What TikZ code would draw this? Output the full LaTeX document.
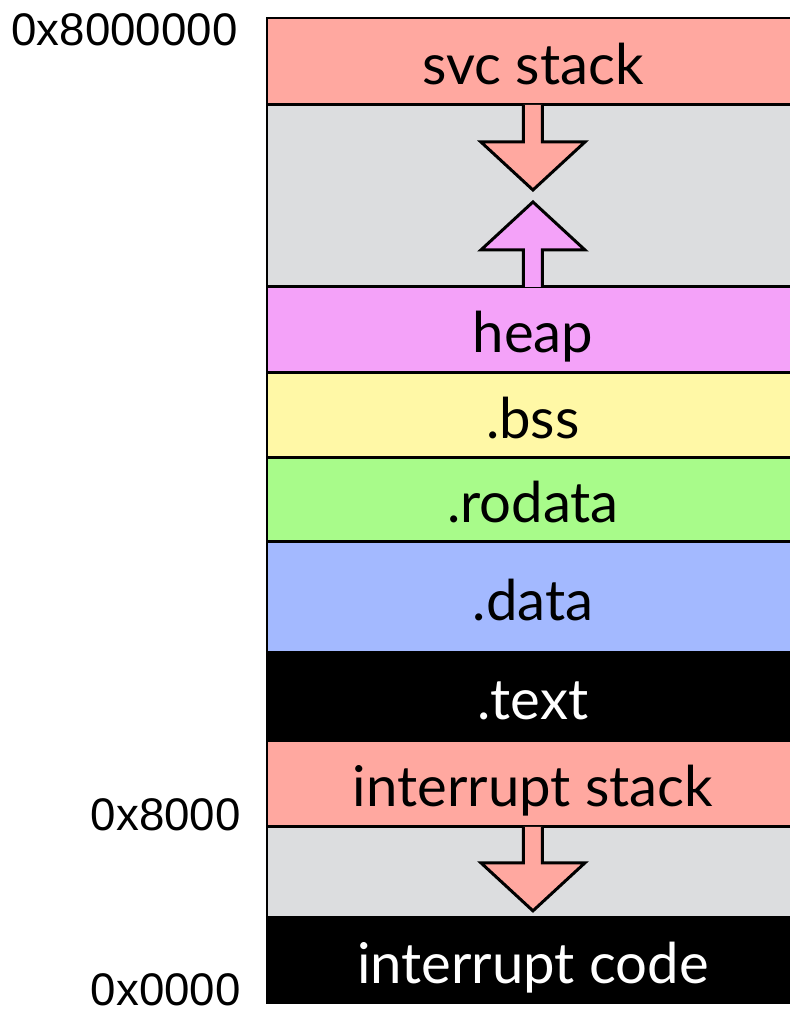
\documentclass[tikz,border=0pt]{standalone}
\usepackage{fontspec}
\setmainfont{Lato}
\newfontfamily\addrfont{Liberation Sans}
\usepackage{xcolor}
\usepackage{tikz}
\usetikzlibrary{positioning, calc}

\definecolor{stackred}{HTML}{FFA8A0}
\definecolor{freegray}{HTML}{DCDDDF}
\definecolor{heappink}{HTML}{F4A2F9}
\definecolor{bssyellow}{HTML}{FFF8A6}
\definecolor{rodatagreen}{HTML}{A8FB8A}
\definecolor{datablue}{HTML}{A3B9FF}

\tikzset{
  segment/.style={
    draw, line width=1.7pt, outer sep=0pt, inner sep=0pt,
    minimum width=10.64cm, text height=26pt, text depth=0pt,
    font=\fontsize{32}{36}\selectfont
  },
  codeseg/.style={segment, fill=black, text=white},
  growarrow/.style={line width=1.7pt, miter limit=10},
  addrlabel/.style={anchor=east, inner sep=0pt, font=\addrfont\fontsize{26}{29}\selectfont},
}

\begin{document}
\begin{tikzpicture}[x=0.02cm, y=-0.02cm]
  \useasboundingbox (0,0) rectangle (790,1015);

  % === Memory segments, top to bottom ===
  \node[segment, fill=stackred, minimum height=1.74cm, anchor=north west] (svc) at (267,18) {svc stack};
  \node[segment, fill=freegray, minimum height=3.64cm, below=0pt of svc] (freeA) {};
  \node[segment, fill=heappink, minimum height=1.72cm, below=0pt of freeA] (heap) {heap};
  \node[segment, fill=bssyellow, minimum height=1.70cm, below=0pt of heap] (bss) {.bss};
  \node[segment, fill=rodatagreen, minimum height=1.68cm, below=0pt of bss] (rodata) {.rodata};
  \node[segment, fill=datablue, minimum height=2.22cm, below=0pt of rodata] (data) {.data};
  \node[codeseg, minimum height=1.76cm, below=0pt of data] (text) {.text};
  \node[segment, fill=stackred, minimum height=1.72cm, below=0pt of text] (irqstack) {interrupt stack};
  \node[segment, fill=freegray, minimum height=1.82cm, below=0pt of irqstack] (freeB) {};
  \node[codeseg, minimum height=1.70cm, below=0pt of freeB] (irqcode) {interrupt code};

  % === Growth arrows ===
  \filldraw[growarrow, fill=stackred] ($(svc.south)+(-9.5,0)$) -- ++(0,37) -- ++(-42.5,0)
    -- ++(52,48) -- ++(52,-48) -- ++(-42.5,0) -- ++(0,-37);
  \filldraw[growarrow, fill=heappink] ($(heap.north)+(-9.5,0)$) -- ++(0,-37) -- ++(-42.5,0)
    -- ++(52,-48) -- ++(52,48) -- ++(-42.5,0) -- ++(0,37);
  \filldraw[growarrow, fill=stackred] ($(irqstack.south)+(-9.5,0)$) -- ++(0,36) -- ++(-42.5,0)
    -- ++(52,48) -- ++(52,-48) -- ++(-42.5,0) -- ++(0,-36);

  % === Addresses ===
  \node[addrlabel] (topaddr) at (238,30) {0x8000000};
  \node[addrlabel] (irqaddr) at (241,815) {0x8000};
  \node[addrlabel] (baseaddr) at (241,990) {0x0000};

\end{tikzpicture}
\end{document}
